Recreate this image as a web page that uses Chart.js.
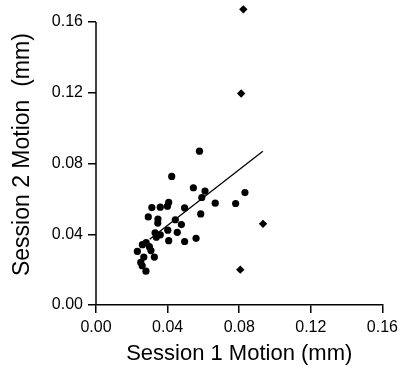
<!DOCTYPE html>
<html lang="en">
<head>
    <meta charset="UTF-8">
    <title>Session Motion</title>
    <script src="https://cdn.jsdelivr.net/npm/chart.js"></script>
    <style>
        body { margin: 0; background: #fff; }
        .wrap { width: 403px; height: 367px; }
    </style>
</head>
<body>
    <div class="wrap"><canvas id="scatter"></canvas></div>

    <script>
        // session 1 / session 2 motion (mm), regular subjects
        var session1 = [0.0578, 0.0423, 0.0544, 0.0609, 0.0832, 0.0591, 0.0666, 0.0780, 0.0406, 0.0399,
                        0.0359, 0.0312, 0.0495, 0.0292, 0.0346, 0.0443, 0.0345, 0.0477, 0.0585, 0.0401,
                        0.0454, 0.0330, 0.0359, 0.0337, 0.0559, 0.0406, 0.0495, 0.0280, 0.0259, 0.0298,
                        0.0231, 0.0307, 0.0267, 0.0326, 0.0250, 0.0258, 0.0279];
        var session2 = [0.0870, 0.0727, 0.0663, 0.0644, 0.0636, 0.0608, 0.0576, 0.0574, 0.0580, 0.0559,
                        0.0553, 0.0551, 0.0549, 0.0498, 0.0486, 0.0482, 0.0463, 0.0455, 0.0515, 0.0423,
                        0.0411, 0.0408, 0.0397, 0.0383, 0.0377, 0.0364, 0.0359, 0.0353, 0.0341, 0.0330,
                        0.0303, 0.0308, 0.0271, 0.0271, 0.0241, 0.0222, 0.0191];

        // outliers (diamonds)
        var outlier1 = [0.0823, 0.0811, 0.0933, 0.0806];
        var outlier2 = [0.1672, 0.1196, 0.0459, 0.0200];

        // fit line end points
        var fitX = [0.0300, 0.0932];
        var fitY = [0.0372, 0.0870];

        var tickValues = [0, 0.04, 0.08, 0.12, 0.16];

        function pairs(xs, ys) {
            return xs.map(function (x, i) { return { x: x, y: ys[i] }; });
        }

        var font = "'Liberation Sans', Arial, sans-serif";

        // y scale runs a bit past 0.16 so the top outlier is drawn,
        // the axis line itself stops at the last tick
        var yAxisLine = {
            id: 'yAxisLine',
            afterDraw: function (chart) {
                var y = chart.scales.y, x = chart.scales.x;
                var c = chart.ctx;
                c.save();
                c.strokeStyle = '#000';
                c.lineWidth = 1.5;
                c.beginPath();
                c.moveTo(x.left, y.getPixelForValue(0));
                c.lineTo(x.left, y.getPixelForValue(tickValues[tickValues.length - 1]));
                c.stroke();
                c.restore();
            }
        };

        var axisCommon = {
            type: 'linear',
            min: 0,
            afterBuildTicks: function (scale) {
                scale.ticks = tickValues.map(function (v) { return { value: v }; });
            },
            ticks: {
                color: '#000',
                font: { family: font, size: 16 },
                callback: function (v) { return Number(v).toFixed(2); }
            },
            grid: {
                drawOnChartArea: false,
                drawTicks: true,
                tickLength: 8,
                color: '#000',
                lineWidth: 1.5
            },
            border: { color: '#000', width: 1.5 }
        };

        var ctx = document.getElementById('scatter').getContext('2d');
        var chart = new Chart(ctx, {
            type: 'scatter',
            data: {
                datasets: [{
                    data: pairs(session1, session2),
                    pointStyle: 'circle',
                    pointRadius: 3.6,
                    backgroundColor: '#000',
                    borderColor: '#000',
                    borderWidth: 0
                }, {
                    data: pairs(outlier1, outlier2),
                    pointStyle: 'rectRot',
                    pointRadius: 4.2,
                    backgroundColor: '#000',
                    borderColor: '#000',
                    borderWidth: 0,
                    clip: false
                }, {
                    type: 'line',
                    data: pairs(fitX, fitY),
                    borderColor: '#000',
                    borderWidth: 1.3,
                    pointRadius: 0,
                    fill: false
                }]
            },
            options: {
                responsive: true,
                maintainAspectRatio: false,
                animation: false,
                layout: { padding: { left: 0, right: 19, top: 2, bottom: 0 } },
                plugins: {
                    legend: { display: false },
                    tooltip: { enabled: false }
                },
                scales: {
                    x: Object.assign({}, axisCommon, {
                        position: 'bottom',
                        max: 0.16,
                        ticks: Object.assign({}, axisCommon.ticks, { padding: 5, maxRotation: 0 }),
                        title: {
                            display: true,
                            text: 'Session 1 Motion (mm)',
                            color: '#000',
                            font: { family: font, size: 22 },
                            padding: { top: 0, bottom: 0 }
                        },
                        afterFit: function (scale) { scale.height = 62; }
                    }),
                    y: Object.assign({}, axisCommon, {
                        position: 'left',
                        max: 0.1701,
                        border: { display: false },
                        ticks: Object.assign({}, axisCommon.ticks, { padding: 5 }),
                        title: {
                            display: true,
                            text: 'Session 2 Motion  (mm)',
                            color: '#000',
                            font: { family: font, size: 23 },
                            padding: { top: 9, bottom: 0 }
                        },
                        afterFit: function (scale) {
                            scale.width = 96;
                            scale.paddingTop = 0;
                        }
                    })
                }
            },
            plugins: [yAxisLine]
        });
    </script>
</body>
</html>
